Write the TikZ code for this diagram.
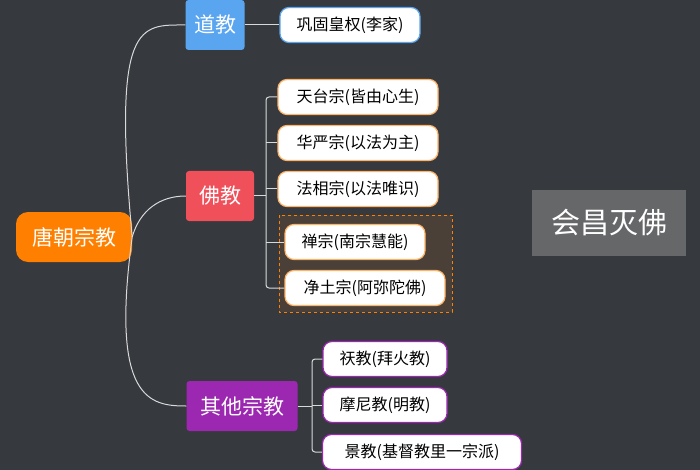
\documentclass[tikz,border=0pt]{standalone}
\usepackage{fontspec}
\setmainfont{Noto Sans CJK SC}
\usetikzlibrary{positioning}
\definecolor{bg}{HTML}{36393E}
\definecolor{rootc}{HTML}{FF8000}
\definecolor{daoc}{HTML}{5AA5F0}
\definecolor{foc}{HTML}{F0505A}
\definecolor{qtc}{HTML}{9C27B0}
\definecolor{zenbg}{HTML}{4A4038}
\tikzset{
  branch/.style={rounded corners=3pt,text=white,font=\fontsize{21}{24}\selectfont,inner sep=0pt,minimum height=50pt},
  leaf/.style={draw=#1,line width=1.2pt,fill=white,rounded corners=9pt,font=\fontsize{16}{19}\selectfont,minimum height=35pt,inner xsep=6pt,inner ysep=0pt},
  link/.style={white!85!black,line width=1pt},
}
\begin{document}
\begin{tikzpicture}[x=1pt,y=-1pt]
    \fill[bg] (0,0) rectangle (700,470);
    \useasboundingbox (0,0) rectangle (700,470);
    \fill[zenbg] (279,215) rectangle (452,312);
    \draw[rootc,dashed,line width=0.8pt] (279,215) rectangle (452,312);
    \node (root) [branch,fill=rootc,minimum width=116pt,rounded corners=12pt] at (74,237) {唐朝宗教};
    \node (dao) [branch,fill=daoc,minimum width=59pt] at (215,25) {道教};
    \node (fo) [branch,fill=foc,minimum width=68pt] at (220,196) {佛教};
    \node (qt) [branch,fill=qtc,minimum width=111pt] at (242,406) {其他宗教};
    \node (hq) [leaf=daoc,minimum width=140pt] at (350,25) {巩固皇权(李家)};
    \node (tt) [leaf=rootc!60,minimum width=160pt] at (358,97) {天台宗(皆由心生)};
    \node (hy) [leaf=rootc!60,minimum width=160pt] at (358,143) {华严宗(以法为主)};
    \node (fx) [leaf=rootc!60,minimum width=160pt] at (358,189) {法相宗(以法唯识)};
    \node (cz) [leaf=rootc!60,minimum width=140pt] at (355,242) {禅宗(南宗慧能)};
    \node (jt) [leaf=rootc!60,minimum width=160pt] at (365,288) {净土宗(阿弥陀佛)};
    \node (xj) [leaf=qtc,minimum width=124pt] at (385,359) {祆教(拜火教)};
    \node (mn) [leaf=qtc,minimum width=124pt] at (385,405) {摩尼教(明教)};
    \node (jj) [leaf=qtc,minimum width=199pt] at (422,452) {景教(基督教里一宗派)};
    \node (hc) [fill=gray!65!bg,text=white,font=\fontsize{29}{32}\selectfont,minimum width=154pt,minimum height=66pt,inner sep=0pt] at (609,223) {会昌灭佛};
    \draw[link] (root.east) .. controls (112,20) and (140,25) .. (dao.west);
    \draw[link] (root.east) .. controls (140,210) and (160,196) .. (fo.west);
    \draw[link] (root.east) .. controls (110,400) and (150,406) .. (qt.west);
    \draw[link] (dao.east) -- (hq.west);
    \draw[link] (fo.east) -- (266,196);
    \draw[link,rounded corners=3pt] (tt.west) -| (266,288) -- (jt.west);
    \draw[link] (266,143) -- (hy.west) (266,189) -- (fx.west) (266,242) -- (cz.west);
    \draw[link] (qt.east) -- (312,406);
    \draw[link,rounded corners=3pt] (xj.west) -| (312,452) -- (jj.west);
    \draw[link] (312,405) -- (mn.west);
\end{tikzpicture}
\end{document}
